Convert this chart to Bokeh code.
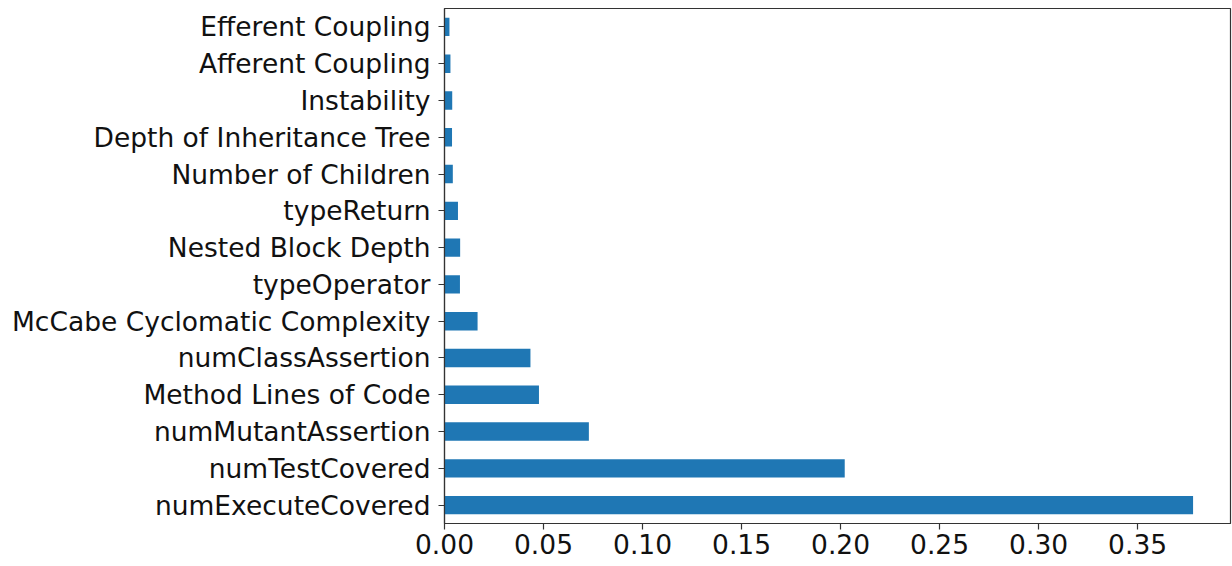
from bokeh.plotting import figure
from bokeh.models import FactorRange, Range1d, FixedTicker, NumeralTickFormatter, ColumnDataSource
from bokeh.embed import file_html
from bokeh.resources import INLINE

# Feature importances, listed bottom to top
features = [
    "numExecuteCovered",
    "numTestCovered",
    "numMutantAssertion",
    "Method Lines of Code",
    "numClassAssertion",
    "McCabe Cyclomatic Complexity",
    "typeOperator",
    "Nested Block Depth",
    "typeReturn",
    "Number of Children",
    "Depth of Inheritance Tree",
    "Instability",
    "Afferent Coupling",
    "Efferent Coupling",
]
importance = [
    0.378,
    0.2021,
    0.0729,
    0.0477,
    0.0434,
    0.0167,
    0.0078,
    0.0079,
    0.0068,
    0.0042,
    0.0038,
    0.0039,
    0.0030,
    0.0025,
]
x_ticks = [0.0, 0.05, 0.10, 0.15, 0.20, 0.25, 0.30, 0.35]

source = ColumnDataSource(data=dict(feature=features, importance=importance))

p = figure(
    width=1232,
    height=566,
    y_range=FactorRange(factors=features, range_padding=0),
    x_range=Range1d(0, max(importance) * 1.05),
    output_backend="svg",
    toolbar_location=None,
    min_border_left=444,
    min_border_right=2,
    min_border_top=8,
    min_border_bottom=43,
)

p.hbar(y="feature", right="importance", left=0, height=0.5, source=source,
       fill_color="#1f77b4", line_color=None)

p.xgrid.visible = False
p.ygrid.visible = False
p.outline_line_color = "#333333"
p.outline_line_width = 1.2
p.background_fill_color = "white"
p.border_fill_color = "white"

for ax in (p.xaxis[0], p.yaxis[0]):
    ax.axis_line_color = "#333333"
    ax.axis_line_width = 1.2
    ax.major_tick_line_color = "#333333"
    ax.major_tick_line_width = 1.2
    ax.major_tick_out = 6
    ax.major_tick_in = 0
    ax.minor_tick_line_color = None
    ax.major_label_text_font = "DejaVu Sans"
    ax.major_label_text_font_size = "26.5px"
    ax.major_label_text_color = "#111111"

p.xaxis.major_label_standoff = 4
p.yaxis.major_label_standoff = 8

p.xaxis.ticker = FixedTicker(ticks=x_ticks)
p.xaxis.formatter = NumeralTickFormatter(format="0.00")

open("out.html", "w").write(file_html(p, INLINE))
